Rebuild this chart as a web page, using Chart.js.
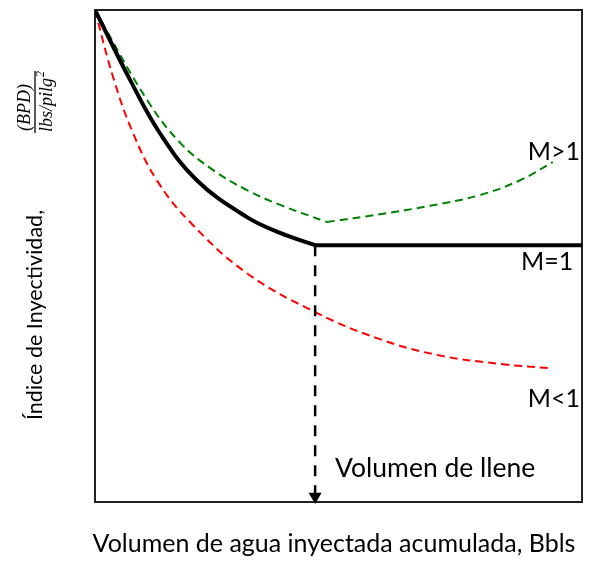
<!DOCTYPE html>
<html>
<head>
<meta charset="utf-8">
<script src="https://cdn.jsdelivr.net/npm/chart.js@4/dist/chart.umd.min.js"></script>
<style>
  html, body { margin: 0; padding: 0; background: #fff; }
  #wrap { width: 597px; height: 562px; }
</style>
</head>
<body>
<div id="wrap"><canvas id="chart"></canvas></div>
<script>
// ── data (relative units, 0–100 on both axes) ─────────────────────────────
// M = 1: curve down to the fill volume, then flat
const xM1     = [0, 7.2, 13.3, 20.9, 31.2, 38.0, 45.2];
const yM1     = [100, 85.8, 75.0, 65.4, 57.9, 54.7, 52.2];
const xM1flat = [45.2, 100];
const yM1flat = [52.2, 52.2];

// M > 1: falls to a minimum, then rises again
const xMgtDown = [0, 10.7, 17.5, 24.2, 31.2, 38.0, 47.6];
const yMgtDown = [100, 81.7, 73.0, 67.5, 63.4, 60.4, 56.9];
const xMgtUp   = [47.6, 58.5, 68.8, 79.1, 87.3, 94.0];
const yMgtUp   = [56.9, 58.5, 60.2, 62.4, 65.4, 69.1];

// M < 1: keeps falling
const xMlt = [0, 3.7, 7.8, 12.7, 19.5, 31.2, 45.2, 57.9, 70.2, 83.8, 93.4];
const yMlt = [100, 86.4, 75.0, 65.4, 56.9, 46.5, 38.6, 33.3, 29.9, 28.0, 27.2];

// fill volume marker (dashed arrow down to the x axis)
const xFill = [45.2, 45.2];
const yFill = [52.2, 1.1];

// text labels inside the plot (M labels are right-aligned)
const mText = ['M>1', 'M=1', 'M<1'];
const mX    = [99.6, 98.2, 99.6];
const mY    = [69.5, 47.2, 19.3];
const fillText = 'Volumen de llene';
const fillTextX = 49.3;
const fillTextY = 5.1;

const xTitle = 'Volumen de agua inyectada acumulada, Bbls';
const yTitle = 'Índice de Inyectividad,';

const pts = (xs, ys) => xs.map((x, i) => ({ x, y: ys[i] }));

const RED   = '#ff0000';
const GREEN = '#008000';
const FONT  = 'Lato, "Open Sans", sans-serif';
const MATH  = '"Liberation Serif", serif';

// ── frame, labels and axis titles ─────────────────────────────────────────
const decor = {
  id: 'decor',
  beforeDatasetsDraw(chart) {
    const { ctx, chartArea: a } = chart;
    ctx.save();
    ctx.strokeStyle = '#222';
    ctx.lineWidth = 2;
    ctx.strokeRect(a.left, a.top, a.right - a.left, a.bottom - a.top);
    ctx.restore();
  },
  afterDraw(chart) {
    const { ctx, scales: { x, y } } = chart;
    ctx.save();
    ctx.fillStyle = '#000';
    ctx.textBaseline = 'alphabetic';

    ctx.font = '25px ' + FONT;
    ctx.textAlign = 'right';
    mText.forEach((t, i) => {
      ctx.fillText(t, x.getPixelForValue(mX[i]), y.getPixelForValue(mY[i]));
    });

    ctx.font = '26.5px ' + FONT;
    ctx.textAlign = 'left';
    ctx.fillText(fillText, x.getPixelForValue(fillTextX), y.getPixelForValue(fillTextY));

    // x title
    ctx.font = '25px ' + FONT;
    ctx.textAlign = 'center';
    ctx.fillText(xTitle, 334, 552);

    // y title, rotated
    ctx.save();
    ctx.translate(42, 315);
    ctx.rotate(-Math.PI / 2);
    ctx.font = '21.5px ' + FONT;
    ctx.fillText(yTitle, 0, 0);
    ctx.restore();

    // fraction (BPD) / (lbs/pilg²)
    ctx.save();
    ctx.translate(35, 102);
    ctx.rotate(-Math.PI / 2);
    ctx.strokeStyle = '#000';
    ctx.lineWidth = 1.3;
    ctx.beginPath();
    ctx.moveTo(-31, 0);
    ctx.lineTo(31, 0);
    ctx.stroke();
    ctx.font = 'italic 18px ' + MATH;
    ctx.textAlign = 'left';
    ctx.fillText('(BPD)', -29, -5);
    const den = 'lbs/pilg';
    const w = ctx.measureText(den).width;
    ctx.font = 'italic 12px ' + MATH;
    const w2 = ctx.measureText('2').width;
    const start = -(w + w2) / 2;
    ctx.font = 'italic 18px ' + MATH;
    ctx.fillText(den, start, 17);
    ctx.font = 'italic 12px ' + MATH;
    ctx.fillText('2', start + w + 1, 9);
    ctx.restore();

    ctx.restore();
  }
};

const line = (data, color, extra) => Object.assign({
  data, borderColor: color, backgroundColor: color,
  pointRadius: 0, fill: false, tension: 0.4
}, extra);

new Chart(document.getElementById('chart'), {
  type: 'line',
  data: {
    datasets: [
      line(pts(xM1, yM1), '#000', { borderWidth: 4 }),
      line(pts(xM1flat, yM1flat), '#000', { borderWidth: 4, tension: 0 }),
      line(pts(xFill, yFill), '#000', {
        borderWidth: 2.5, borderDash: [11, 9], tension: 0, clip: false,
        pointRadius: [0, 7.5], pointStyle: 'triangle', rotation: 180,
        pointBorderWidth: 0, pointBackgroundColor: '#000'
      }),
      line(pts(xMgtDown, yMgtDown), GREEN, { borderWidth: 2, borderDash: [8, 5] }),
      line(pts(xMgtUp, yMgtUp), GREEN, { borderWidth: 2, borderDash: [8, 5] }),
      line(pts(xMlt, yMlt), RED, { borderWidth: 2, borderDash: [8, 5] })
    ]
  },
  options: {
    responsive: true,
    maintainAspectRatio: false,
    animation: false,
    layout: { padding: { left: 95, top: 10, right: 15, bottom: 60 } },
    scales: {
      x: { type: 'linear', min: 0, max: 100, display: false },
      y: { type: 'linear', min: 0, max: 100, display: false }
    },
    plugins: { legend: { display: false }, tooltip: { enabled: false } }
  },
  plugins: [decor]
});
</script>
</body>
</html>
